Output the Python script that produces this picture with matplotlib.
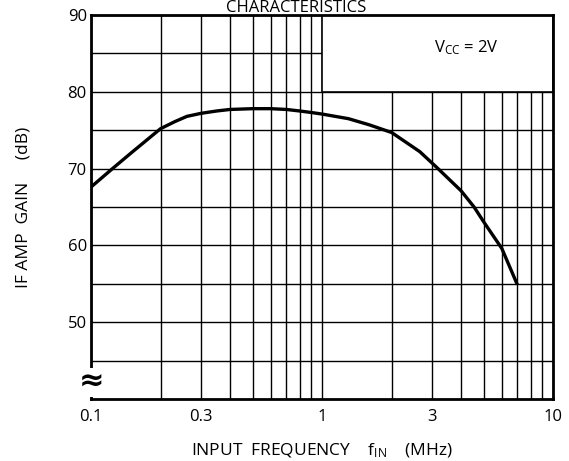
import matplotlib
matplotlib.use('Agg')
import matplotlib.pyplot as plt
import numpy as np
from matplotlib.ticker import FixedLocator, NullFormatter

plt.rcParams['font.family'] = ['Open Sans', 'DejaVu Sans']
plt.rcParams['mathtext.default'] = 'regular'

# curve
freq = [0.1, 0.125, 0.15, 0.2, 0.23, 0.26, 0.3, 0.35, 0.4, 0.5, 0.6, 0.7, 0.8, 0.9, 1.0,
        1.3, 1.6, 2.0, 2.45, 2.65, 3.15, 4.0, 4.55, 5.0, 6.0, 7.0]
gain = [67.6, 70.1, 72.1, 75.2, 76.1, 76.8, 77.2, 77.5, 77.7, 77.8, 77.8, 77.7, 77.5, 77.3, 77.1,
        76.5, 75.7, 74.7, 72.9, 72.2, 70.1, 67.1, 65.0, 63.1, 59.6, 54.9]

xticks = [0.1, 0.3, 1, 3, 10]
xticklabels = ['0.1', '0.3', '1', '3', '10']
yticks = [50, 60, 70, 80, 90]

fig = plt.figure(figsize=(5.69, 4.61), dpi=100)
ax = fig.add_axes([0.160, 0.1345, 0.812, 0.833])

ax.set_xscale('log')
ax.set_xlim(0.1, 10)
ax.set_ylim(40, 90)

minor_x = [m * d for d in (0.1, 1) for m in range(2, 10)]
ax.xaxis.set_major_locator(FixedLocator(xticks))
ax.xaxis.set_minor_locator(FixedLocator(minor_x))
ax.xaxis.set_minor_formatter(NullFormatter())
ax.set_xticklabels(xticklabels)
ax.yaxis.set_major_locator(FixedLocator(yticks))
ax.yaxis.set_minor_locator(FixedLocator([45, 55, 65, 75, 85]))

ax.grid(which='both', color='black', linewidth=1.0)
ax.set_axisbelow(True)
ax.tick_params(which='both', length=0, labelsize=12)
ax.tick_params(axis='x', pad=7)
ax.tick_params(axis='y', pad=3)
for s in ax.spines.values():
    s.set_linewidth(2.0)

# box for condition label
ax.fill_between([1, 10], 80, 90, facecolor='white', edgecolor='black',
                linewidth=1.2, zorder=1.5)
ax.text(4.2, 85.7, r'V$_{CC}$ = 2V', fontsize=12, ha='center', va='center', zorder=3)

ax.plot(freq, gain, color='black', linewidth=2.4, zorder=4,
        solid_joinstyle='round', solid_capstyle='butt')

# axis break mark
ax.text(0.1, 42.6, '≈', family='DejaVu Sans', fontsize=22, fontweight='bold',
        ha='center', va='center_baseline', zorder=5, clip_on=False,
        bbox=dict(facecolor='white', edgecolor='none', pad=0))

ax.set_xlabel(r'INPUT  FREQUENCY    f$_{IN}$    (MHz)', fontsize=12.5, labelpad=12)
ax.set_ylabel('IF AMP  GAIN     (dB)', fontsize=12.5, labelpad=26)

fig.text(0.52, 1 - 12 / 461, 'CHARACTERISTICS', fontsize=12, ha='center', va='baseline')

fig.savefig('out.png', dpi=100)
